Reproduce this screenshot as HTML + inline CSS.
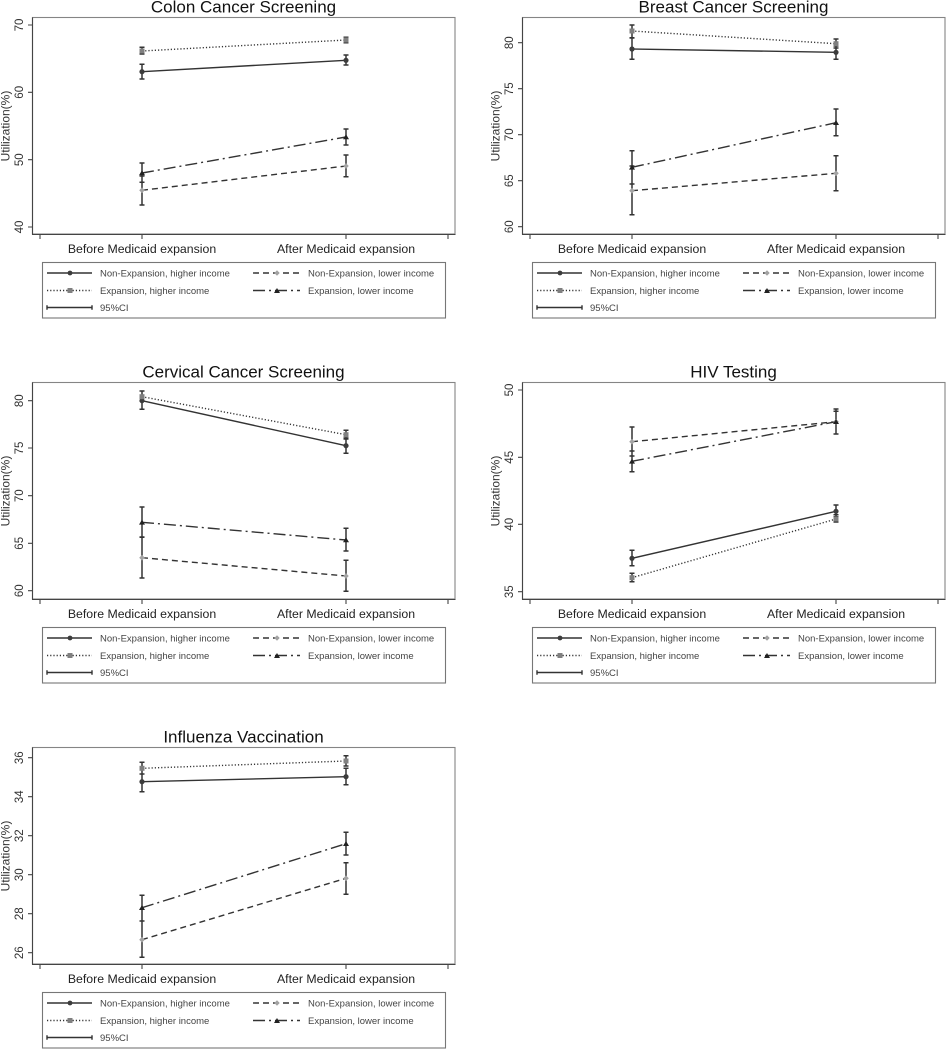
<!DOCTYPE html>
<html><head><meta charset="utf-8">
<style>
html,body{margin:0;padding:0;background:#fff}
svg{display:block}
text{font-family:"Liberation Sans",Arial,sans-serif}
.ttl{font-size:17px;fill:#111;text-anchor:middle}
.tk{font-size:11.5px;fill:#333;text-anchor:middle}
.yt{font-size:12px;fill:#333;text-anchor:middle}
.xl{font-size:12.3px;fill:#222;text-anchor:middle}
.lg{font-size:9.5px;fill:#444}
.frame{fill:none;stroke:#858585;stroke-width:1.1}
.ax{fill:none;stroke:#444;stroke-width:1.1}
.ci{fill:none;stroke:#333;stroke-width:1.5}
.s{fill:none;stroke:#333;stroke-width:1.4}
.dt{fill:none;stroke:#333;stroke-width:1.4;stroke-dasharray:1.2 2}
.da{fill:none;stroke:#333;stroke-width:1.4;stroke-dasharray:6 4}
.dd{fill:none;stroke:#333;stroke-width:1.4;stroke-dasharray:12 4 2 4}
.mc{fill:#3c3c3c}
.ms{fill:#808080}
.md{fill:#a3a3a3}
.mt{fill:#222}
.lbox{fill:none;stroke:#777;stroke-width:1.1}
</style></head>
<body>
<svg width="946" height="1050" viewBox="0 0 946 1050" xmlns="http://www.w3.org/2000/svg">
<rect width="946" height="1050" fill="#fff"/>

<!-- Panel 1: Colon -->
<g transform="translate(0,0)">
<text class="ttl" x="243.5" y="12.5">Colon Cancer Screening</text>
<rect class="frame" x="32.5" y="17.5" width="422.5" height="216.5"/>
<path class="ax" d="M32.5 17.5V234.5M32 234.5H455.5M40 234.5V239M142 234.5V239M346 234.5V239M448 234.5V239"/>
<path class="ax" d="M28 25H32.5M28 92.3H32.5M28 159.7H32.5M28 227H32.5"/>
<text class="tk" transform="translate(23,25) rotate(-90)">70</text>
<text class="tk" transform="translate(23,92.3) rotate(-90)">60</text>
<text class="tk" transform="translate(23,159.7) rotate(-90)">50</text>
<text class="tk" transform="translate(23,227) rotate(-90)">40</text>
<text class="yt" transform="translate(9.5,126) rotate(-90)">Utilization(%)</text>
<text class="xl" x="142" y="253">Before Medicaid expansion</text>
<text class="xl" x="346" y="253">After Medicaid expansion</text>
<path class="s" d="M142 71.7L346 60.3"/>
<path class="dt" d="M142 51L346 40"/>
<path class="dd" d="M142 173L346 137"/>
<path class="da" d="M142 190.3L346 166"/>
<path class="ci" d="M142 64.3V79M139.5 64.3H144.5M139.5 79H144.5M142 47.3V54M139.5 47.3H144.5M139.5 54H144.5M142 163V182.3M139.5 163H144.5M139.5 182.3H144.5M142 176V205M139.5 176H144.5M139.5 205H144.5M346 55V65M343.5 55H348.5M343.5 65H348.5M346 37.3V42.7M343.5 37.3H348.5M343.5 42.7H348.5M346 129V145M343.5 129H348.5M343.5 145H348.5M346 155V176.7M343.5 155H348.5M343.5 176.7H348.5"/>
<circle class="mc" cx="142" cy="71.7" r="2.6"/><circle class="mc" cx="346" cy="60.3" r="2.6"/>
<rect class="ms" x="139.5" y="48.5" width="5" height="5"/><rect class="ms" x="343.5" y="37.5" width="5" height="5"/>
<path class="mt" d="M142 170.3L145 175.3L139 175.3ZM346 134.3L349 139.3L343 139.3Z"/>
<path class="md" d="M142 187.5L144.8 190.3L142 193.1L139.2 190.3ZM346 163.2L348.8 166L346 168.8L343.2 166Z"/>
<rect class="lbox" x="42.5" y="262.5" width="403" height="55.5"/>
<path class="s" d="M47 273H92"/><circle class="mc" cx="70" cy="273" r="2.4"/>
<text class="lg" x="100" y="276.5">Non-Expansion, higher income</text>
<path class="dt" d="M47 290.5H92"/><rect class="ms" x="67.5" y="288" width="5" height="5"/>
<text class="lg" x="100" y="294">Expansion, higher income</text>
<path class="s" d="M47 307.5H92M47 305.3V309.7M92 305.3V309.7"/>
<text class="lg" x="100" y="311">95%CI</text>
<path class="da" d="M253 273H300"/><path class="md" d="M277 270.3L279.7 273L277 275.7L274.3 273Z"/>
<text class="lg" x="308" y="276.5">Non-Expansion, lower income</text>
<path class="dd" d="M253 290.5H300"/><path class="mt" d="M277 288L280 293L274 293Z"/>
<text class="lg" x="308" y="294">Expansion, lower income</text>
</g>

<!-- Panel 2: Breast -->
<g transform="translate(490,0)">
<text class="ttl" x="243.5" y="12.5">Breast Cancer Screening</text>
<rect class="frame" x="32.5" y="17.5" width="422.5" height="216.5"/>
<path class="ax" d="M32.5 17.5V234.5M32 234.5H455.5M40 234.5V239M142 234.5V239M346 234.5V239M448 234.5V239"/>
<path class="ax" d="M28 42.7H32.5M28 88.7H32.5M28 134.7H32.5M28 180.7H32.5M28 226.7H32.5"/>
<text class="tk" transform="translate(23,42.7) rotate(-90)">80</text>
<text class="tk" transform="translate(23,88.7) rotate(-90)">75</text>
<text class="tk" transform="translate(23,134.7) rotate(-90)">70</text>
<text class="tk" transform="translate(23,180.7) rotate(-90)">65</text>
<text class="tk" transform="translate(23,226.7) rotate(-90)">60</text>
<text class="yt" transform="translate(9.5,126) rotate(-90)">Utilization(%)</text>
<text class="xl" x="142" y="253">Before Medicaid expansion</text>
<text class="xl" x="346" y="253">After Medicaid expansion</text>
<path class="s" d="M142 49L346 52.3"/>
<path class="dt" d="M142 31L346 43.7"/>
<path class="dd" d="M142 167.3L346 122.7"/>
<path class="da" d="M142 190.7L346 173.3"/>
<path class="ci" d="M142 38V59.3M139.5 38H144.5M139.5 59.3H144.5M142 25V37.7M139.5 25H144.5M139.5 37.7H144.5M142 150.7V184M139.5 150.7H144.5M139.5 184H144.5M142 166V214.7M139.5 166H144.5M139.5 214.7H144.5M346 46V59.3M343.5 46H348.5M343.5 59.3H348.5M346 39V48M343.5 39H348.5M343.5 48H348.5M346 109V135.7M343.5 109H348.5M343.5 135.7H348.5M346 155.7V190.7M343.5 155.7H348.5M343.5 190.7H348.5"/>
<circle class="mc" cx="142" cy="49" r="2.6"/><circle class="mc" cx="346" cy="52.3" r="2.6"/>
<rect class="ms" x="139.5" y="28.5" width="5" height="5"/><rect class="ms" x="343.5" y="41.2" width="5" height="5"/>
<path class="mt" d="M142 164.6L145 169.6L139 169.6ZM346 120L349 125L343 125Z"/>
<path class="md" d="M142 187.9L144.8 190.7L142 193.5L139.2 190.7ZM346 170.5L348.8 173.3L346 176.1L343.2 173.3Z"/>
<rect class="lbox" x="42.5" y="262.5" width="403" height="55.5"/>
<path class="s" d="M47 273H92"/><circle class="mc" cx="70" cy="273" r="2.4"/>
<text class="lg" x="100" y="276.5">Non-Expansion, higher income</text>
<path class="dt" d="M47 290.5H92"/><rect class="ms" x="67.5" y="288" width="5" height="5"/>
<text class="lg" x="100" y="294">Expansion, higher income</text>
<path class="s" d="M47 307.5H92M47 305.3V309.7M92 305.3V309.7"/>
<text class="lg" x="100" y="311">95%CI</text>
<path class="da" d="M253 273H300"/><path class="md" d="M277 270.3L279.7 273L277 275.7L274.3 273Z"/>
<text class="lg" x="308" y="276.5">Non-Expansion, lower income</text>
<path class="dd" d="M253 290.5H300"/><path class="mt" d="M277 288L280 293L274 293Z"/>
<text class="lg" x="308" y="294">Expansion, lower income</text>
</g>

<!-- Panel 3: Cervical -->
<g transform="translate(0,365)">
<text class="ttl" x="243.5" y="12.5">Cervical Cancer Screening</text>
<rect class="frame" x="32.5" y="17.5" width="422.5" height="216.5"/>
<path class="ax" d="M32.5 17.5V234.5M32 234.5H455.5M40 234.5V239M142 234.5V239M346 234.5V239M448 234.5V239"/>
<path class="ax" d="M28 35.7H32.5M28 83H32.5M28 130.7H32.5M28 178.3H32.5M28 225.7H32.5"/>
<text class="tk" transform="translate(23,35.7) rotate(-90)">80</text>
<text class="tk" transform="translate(23,83) rotate(-90)">75</text>
<text class="tk" transform="translate(23,130.7) rotate(-90)">70</text>
<text class="tk" transform="translate(23,178.3) rotate(-90)">65</text>
<text class="tk" transform="translate(23,225.7) rotate(-90)">60</text>
<text class="yt" transform="translate(9.5,126) rotate(-90)">Utilization(%)</text>
<text class="xl" x="142" y="253">Before Medicaid expansion</text>
<text class="xl" x="346" y="253">After Medicaid expansion</text>
<path class="s" d="M142 35.7L346 80.7"/>
<path class="dt" d="M142 31.7L346 69.7"/>
<path class="dd" d="M142 157.3L346 175"/>
<path class="da" d="M142 192.7L346 211"/>
<path class="ci" d="M142 26V44.3M139.5 26H144.5M139.5 44.3H144.5M142 26V36M139.5 36H144.5M142 142V172.3M139.5 142H144.5M139.5 172.3H144.5M142 172V213M139.5 172H144.5M139.5 213H144.5M346 73V88.3M343.5 73H348.5M343.5 88.3H348.5M346 65.3V74M343.5 65.3H348.5M343.5 74H348.5M346 163.3V186M343.5 163.3H348.5M343.5 186H348.5M346 195.3V226.3M343.5 195.3H348.5M343.5 226.3H348.5"/>
<circle class="mc" cx="142" cy="35.7" r="2.6"/><circle class="mc" cx="346" cy="80.7" r="2.6"/>
<rect class="ms" x="139.5" y="29.2" width="5" height="5"/><rect class="ms" x="343.5" y="67.2" width="5" height="5"/>
<path class="mt" d="M142 154.6L145 159.6L139 159.6ZM346 172.3L349 177.3L343 177.3Z"/>
<path class="md" d="M142 189.9L144.8 192.7L142 195.5L139.2 192.7ZM346 208.2L348.8 211L346 213.8L343.2 211Z"/>
<rect class="lbox" x="42.5" y="262.5" width="403" height="55.5"/>
<path class="s" d="M47 273H92"/><circle class="mc" cx="70" cy="273" r="2.4"/>
<text class="lg" x="100" y="276.5">Non-Expansion, higher income</text>
<path class="dt" d="M47 290.5H92"/><rect class="ms" x="67.5" y="288" width="5" height="5"/>
<text class="lg" x="100" y="294">Expansion, higher income</text>
<path class="s" d="M47 307.5H92M47 305.3V309.7M92 305.3V309.7"/>
<text class="lg" x="100" y="311">95%CI</text>
<path class="da" d="M253 273H300"/><path class="md" d="M277 270.3L279.7 273L277 275.7L274.3 273Z"/>
<text class="lg" x="308" y="276.5">Non-Expansion, lower income</text>
<path class="dd" d="M253 290.5H300"/><path class="mt" d="M277 288L280 293L274 293Z"/>
<text class="lg" x="308" y="294">Expansion, lower income</text>
</g>

<!-- Panel 4: HIV -->
<g transform="translate(490,365)">
<text class="ttl" x="243.5" y="12.5">HIV Testing</text>
<rect class="frame" x="32.5" y="17.5" width="422.5" height="216.5"/>
<path class="ax" d="M32.5 17.5V234.5M32 234.5H455.5M40 234.5V239M142 234.5V239M346 234.5V239M448 234.5V239"/>
<path class="ax" d="M28 25H32.5M28 92.3H32.5M28 159.3H32.5M28 226.7H32.5"/>
<text class="tk" transform="translate(23,25) rotate(-90)">50</text>
<text class="tk" transform="translate(23,92.3) rotate(-90)">45</text>
<text class="tk" transform="translate(23,159.3) rotate(-90)">40</text>
<text class="tk" transform="translate(23,226.7) rotate(-90)">35</text>
<text class="yt" transform="translate(9.5,126) rotate(-90)">Utilization(%)</text>
<text class="xl" x="142" y="253">Before Medicaid expansion</text>
<text class="xl" x="346" y="253">After Medicaid expansion</text>
<path class="da" d="M142 76.7L346 56.7"/>
<path class="dd" d="M142 96.3L346 56.7"/>
<path class="s" d="M142 193.3L346 146.3"/>
<path class="dt" d="M142 212.7L346 154"/>
<path class="ci" d="M142 62V91M139.5 62H144.5M139.5 91H144.5M142 86V106.7M139.5 86H144.5M139.5 106.7H144.5M142 185.3V200.7M139.5 185.3H144.5M139.5 200.7H144.5M142 208.3V216.7M139.5 208.3H144.5M139.5 216.7H144.5M346 44V69M343.5 44H348.5M343.5 69H348.5M346 46.3V69M343.5 46.3H348.5M346 140V151.7M343.5 140H348.5M343.5 151.7H348.5M346 149.7V157M343.5 149.7H348.5M343.5 157H348.5"/>
<circle class="mc" cx="142" cy="193.3" r="2.6"/><circle class="mc" cx="346" cy="146.3" r="2.6"/>
<rect class="ms" x="139.5" y="210.2" width="5" height="5"/><rect class="ms" x="343.5" y="151.5" width="5" height="5"/>
<path class="md" d="M142 73.9L144.8 76.7L142 79.5L139.2 76.7ZM346 53.9L348.8 56.7L346 59.5L343.2 56.7Z"/>
<path class="mt" d="M142 93.6L145 98.6L139 98.6ZM346 54L349 59L343 59Z"/>
<rect class="lbox" x="42.5" y="262.5" width="403" height="55.5"/>
<path class="s" d="M47 273H92"/><circle class="mc" cx="70" cy="273" r="2.4"/>
<text class="lg" x="100" y="276.5">Non-Expansion, higher income</text>
<path class="dt" d="M47 290.5H92"/><rect class="ms" x="67.5" y="288" width="5" height="5"/>
<text class="lg" x="100" y="294">Expansion, higher income</text>
<path class="s" d="M47 307.5H92M47 305.3V309.7M92 305.3V309.7"/>
<text class="lg" x="100" y="311">95%CI</text>
<path class="da" d="M253 273H300"/><path class="md" d="M277 270.3L279.7 273L277 275.7L274.3 273Z"/>
<text class="lg" x="308" y="276.5">Non-Expansion, lower income</text>
<path class="dd" d="M253 290.5H300"/><path class="mt" d="M277 288L280 293L274 293Z"/>
<text class="lg" x="308" y="294">Expansion, lower income</text>
</g>

<!-- Panel 5: Influenza -->
<g transform="translate(0,730)">
<text class="ttl" x="243.5" y="12.5">Influenza Vaccination</text>
<rect class="frame" x="32.5" y="17.5" width="422.5" height="216.5"/>
<path class="ax" d="M32.5 17.5V234.5M32 234.5H455.5M40 234.5V239M142 234.5V239M346 234.5V239M448 234.5V239"/>
<path class="ax" d="M28 27.7H32.5M28 66.7H32.5M28 105.7H32.5M28 144.7H32.5M28 183.7H32.5M28 222.7H32.5"/>
<text class="tk" transform="translate(23,27.7) rotate(-90)">36</text>
<text class="tk" transform="translate(23,66.7) rotate(-90)">34</text>
<text class="tk" transform="translate(23,105.7) rotate(-90)">32</text>
<text class="tk" transform="translate(23,144.7) rotate(-90)">30</text>
<text class="tk" transform="translate(23,183.7) rotate(-90)">28</text>
<text class="tk" transform="translate(23,222.7) rotate(-90)">26</text>
<text class="yt" transform="translate(9.5,126) rotate(-90)">Utilization(%)</text>
<text class="xl" x="142" y="253">Before Medicaid expansion</text>
<text class="xl" x="346" y="253">After Medicaid expansion</text>
<path class="dt" d="M142 38.3L346 31"/>
<path class="s" d="M142 51.7L346 46.7"/>
<path class="dd" d="M142 177.7L346 113.7"/>
<path class="da" d="M142 209.7L346 148.3"/>
<path class="ci" d="M142 32.3V44M139.5 32.3H144.5M139.5 44H144.5M142 43.3V61.7M139.5 61.7H144.5M142 165.3V191M139.5 165.3H144.5M139.5 191H144.5M142 191.7V227.3M139.5 227.3H144.5M346 25.7V36M343.5 25.7H348.5M343.5 36H348.5M346 38.3V54.7M343.5 38.3H348.5M343.5 54.7H348.5M346 102.3V125M343.5 102.3H348.5M343.5 125H348.5M346 132.7V164.3M343.5 132.7H348.5M343.5 164.3H348.5"/>
<circle class="mc" cx="142" cy="51.7" r="2.6"/><circle class="mc" cx="346" cy="46.7" r="2.6"/>
<rect class="ms" x="139.5" y="35.8" width="5" height="5"/><rect class="ms" x="343.5" y="28.5" width="5" height="5"/>
<path class="mt" d="M142 175L145 180L139 180ZM346 111L349 116L343 116Z"/>
<path class="md" d="M142 206.9L144.8 209.7L142 212.5L139.2 209.7ZM346 145.5L348.8 148.3L346 151.1L343.2 148.3Z"/>
<rect class="lbox" x="42.5" y="262.5" width="403" height="55.5"/>
<path class="s" d="M47 273H92"/><circle class="mc" cx="70" cy="273" r="2.4"/>
<text class="lg" x="100" y="276.5">Non-Expansion, higher income</text>
<path class="dt" d="M47 290.5H92"/><rect class="ms" x="67.5" y="288" width="5" height="5"/>
<text class="lg" x="100" y="294">Expansion, higher income</text>
<path class="s" d="M47 307.5H92M47 305.3V309.7M92 305.3V309.7"/>
<text class="lg" x="100" y="311">95%CI</text>
<path class="da" d="M253 273H300"/><path class="md" d="M277 270.3L279.7 273L277 275.7L274.3 273Z"/>
<text class="lg" x="308" y="276.5">Non-Expansion, lower income</text>
<path class="dd" d="M253 290.5H300"/><path class="mt" d="M277 288L280 293L274 293Z"/>
<text class="lg" x="308" y="294">Expansion, lower income</text>
</g>
</svg>
</body></html>
